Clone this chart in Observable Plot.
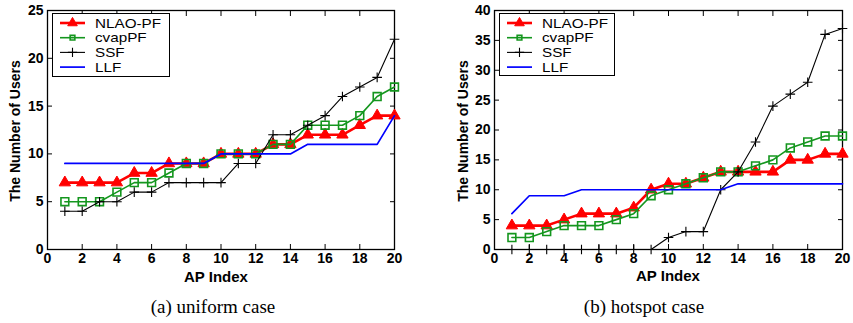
<!DOCTYPE html>
<html>
<head>
<meta charset="utf-8">
<script src="https://cdn.jsdelivr.net/npm/d3@7"></script>
<script src="https://cdn.jsdelivr.net/npm/@observablehq/plot@0.6"></script>
<style>
  body { margin: 0; background: #fff; }
  #wrap { position: relative; width: 853px; height: 323px; overflow: hidden; font-family: "Liberation Sans", Arial, sans-serif; }
  .panel { position: absolute; top: 0; }
  .ylab { position: absolute; font-weight: bold; font-size: 14px; white-space: nowrap; transform: translate(-50%, -50%) rotate(-90deg); }
  .xlab { position: absolute; font-weight: bold; font-size: 15px; white-space: nowrap; transform: translate(-50%, -50%); }
  .caption { position: absolute; font-family: "Liberation Serif", "Times New Roman", serif; font-size: 19px; white-space: nowrap; transform: translate(-50%, -50%); }
  .legend { position: absolute; border: 1px solid #000; background: #fff; box-sizing: border-box; }
  .legend svg { display: block; }
</style>
</head>
<body>
<div id="wrap"></div>
<script>
// ---------------- data ----------------
const apIndex = [1, 2, 3, 4, 5, 6, 7, 8, 9, 10, 11, 12, 13, 14, 15, 16, 17, 18, 19, 20];

// (a) uniform case
const uniformNLAO = [7, 7, 7, 7, 8, 8, 9, 9, 9, 10, 10, 10, 11, 11, 12, 12, 12, 13, 14, 14];
const uniformCvap = [5, 5, 5, 6, 7, 7, 8, 9, 9, 10, 10, 10, 11, 11, 13, 13, 13, 14, 16, 17];
const uniformSSF  = [4, 4, 5, 5, 6, 6, 7, 7, 7, 7, 9, 9, 12, 12, 13, 14, 16, 17, 18, 22];
const uniformLLF  = [9, 9, 9, 9, 9, 9, 9, 9, 9, 10, 10, 10, 10, 10, 11, 11, 11, 11, 11, 14];

// (b) hotspot case
const hotspotNLAO = [4, 4, 4, 5, 6, 6, 6, 7, 10, 11, 11, 12, 13, 13, 13, 13, 15, 15, 16, 16];
const hotspotCvap = [2, 2, 3, 4, 4, 4, 5, 6, 9, 10, 11, 12, 13, 13, 14, 15, 17, 18, 19, 19];
const hotspotSSF  = [0, 0, 0, 0, 0, 0, 0, 0, 0, 2, 3, 3, 10, 13, 18, 24, 26, 28, 36, 37];
const hotspotLLF  = [6, 9, 9, 9, 10, 10, 10, 10, 10, 10, 10, 10, 10, 11, 11, 11, 11, 11, 11, 11];

const xTicks = [0, 2, 4, 6, 8, 10, 12, 14, 16, 18, 20];
const yTicksUniform = [0, 5, 10, 15, 20, 25];
const yTicksHotspot = [0, 5, 10, 15, 20, 25, 30, 35, 40];

const seriesNames = ["NLAO-PF", "cvapPF", "SSF", "LLF"];
const yLabel = "The Number of Users";
const xLabel = "AP Index";
const captions = ["(a) uniform case", "(b) hotspot case"];

// ---------------- styles ----------------
const RED = "#ff0000", GREEN = "#14961e", BLACK = "#000000", BLUE = "#0000ff";

function rows(values) { return apIndex.map((x, i) => ({x, y: values[i]})); }

function panel({nlao, cvap, ssf, llf, yTicks, width, marginLeft, marginRight}) {
  const yMax = yTicks[yTicks.length - 1];
  return Plot.plot({
    width, height: 290,
    marginTop: 10, marginBottom: 41, marginLeft, marginRight,
    style: {fontFamily: "Liberation Sans, Arial, sans-serif", fontSize: "14px", fontWeight: "bold", color: "#000", background: "transparent", overflow: "visible"},
    x: {domain: [0, 20]},
    y: {domain: [0, yMax]},
    marks: [
      Plot.axisX(xTicks, {anchor: "bottom", tickSize: 0, tickPadding: 4, label: null}),
      Plot.axisX(xTicks, {anchor: "bottom", tickSize: -5, text: null, label: null}),
      Plot.axisX(xTicks, {anchor: "top", tickSize: -5, text: null, label: null}),
      Plot.axisY(yTicks, {anchor: "left", tickSize: 0, tickPadding: 4, label: null}),
      Plot.axisY(yTicks, {anchor: "left", tickSize: -5, text: null, label: null}),
      Plot.axisY(yTicks, {anchor: "right", tickSize: -5, text: null, label: null}),
      Plot.frame({stroke: "#000", strokeWidth: 1.3}),
      Plot.line(rows(nlao), {x: "x", y: "y", stroke: RED, strokeWidth: 2.6}),
      Plot.dot(rows(nlao), {x: "x", y: "y", symbol: "triangle", r: 4.2, fill: RED, stroke: RED, strokeWidth: 1}),
      Plot.line(rows(cvap), {x: "x", y: "y", stroke: GREEN, strokeWidth: 1.6}),
      Plot.dot(rows(cvap), {x: "x", y: "y", symbol: "square", r: 4.4, fill: "none", stroke: GREEN, strokeWidth: 1.6}),
      Plot.line(rows(ssf), {x: "x", y: "y", stroke: BLACK, strokeWidth: 1.1}),
      Plot.dot(rows(ssf), {x: "x", y: "y", symbol: "plus", r: 3.2, fill: "none", stroke: BLACK, strokeWidth: 1.1}),
      Plot.line(rows(llf), {x: "x", y: "y", stroke: BLUE, strokeWidth: 1.7})
    ]
  });
}

const wrap = document.getElementById("wrap");

function place(el, left, top) {
  el.style.left = left + "px";
  el.style.top = top + "px";
  wrap.appendChild(el);
  return el;
}

function addText(cls, text, x, y) {
  const d = document.createElement("div");
  d.className = cls;
  d.textContent = text;
  return place(d, x, y);
}

function legend(left, top, w, h) {
  const box = document.createElement("div");
  box.className = "legend";
  box.style.width = w + "px";
  box.style.height = h + "px";
  const svg = d3.create("svg").attr("width", w - 2).attr("height", h - 2);
  const styles = [
    {stroke: RED, sw: 2.6, sym: d3.symbolTriangle, size: 40, fill: RED},
    {stroke: GREEN, sw: 1.6, sym: d3.symbolSquare, size: 22, fill: "none"},
    {stroke: BLACK, sw: 1.1, sym: d3.symbolPlus, size: 30, fill: "none"},
    {stroke: BLUE, sw: 1.7, sym: null}
  ];
  seriesNames.forEach((name, i) => {
    const cy = 9 + i * 14.7;
    const s = styles[i];
    const g = svg.append("g").attr("transform", `translate(0,${cy})`);
    g.append("line").attr("x1", 7).attr("x2", 32).attr("stroke", s.stroke).attr("stroke-width", s.sw);
    if (s.sym) g.append("path").attr("d", d3.symbol(s.sym, s.size)()).attr("transform", "translate(19.5,0)")
      .attr("fill", s.fill).attr("stroke", s.stroke).attr("stroke-width", s.sym === d3.symbolTriangle ? 1 : s.sw);
    g.append("text").attr("transform", "translate(42,0) scale(1.22,1)").attr("dy", "0.36em").attr("font-size", 12.5)
      .attr("font-family", "Liberation Sans, Arial, sans-serif").text(name);
  });
  box.appendChild(svg.node());
  return place(box, left, top);
}

// panel (a)
const pa = panel({nlao: uniformNLAO, cvap: uniformCvap, ssf: uniformSSF, llf: uniformLLF,
  yTicks: yTicksUniform, width: 430, marginLeft: 47, marginRight: 36});
pa.classList.add("panel");
place(pa, 0, 0);

// panel (b)
const pb = panel({nlao: hotspotNLAO, cvap: hotspotCvap, ssf: hotspotSSF, llf: hotspotLLF,
  yTicks: yTicksHotspot, width: 423, marginLeft: 64, marginRight: 11});
pb.classList.add("panel");
place(pb, 430, 0);

legend(52, 13, 118, 64);
legend(499, 13, 116, 63);

addText("ylab", yLabel, 15, 131);
addText("ylab", yLabel, 463, 131);
addText("xlab", xLabel, 216, 276);
addText("xlab", xLabel, 668, 275);
addText("caption", captions[0], 213, 307);
addText("caption", captions[1], 644, 307);
</script>
</body>
</html>
